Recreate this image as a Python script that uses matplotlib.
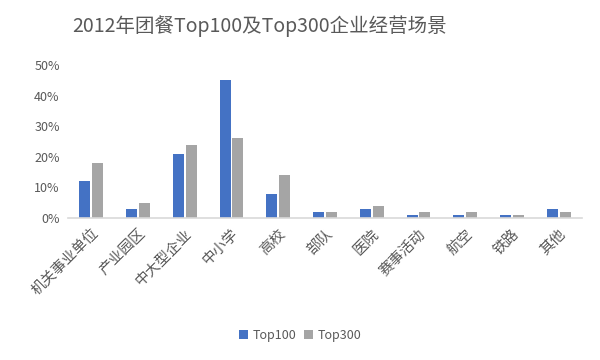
import matplotlib
matplotlib.use("Agg")
import matplotlib.pyplot as plt
import numpy as np

plt.rcParams['font.family'] = ['Noto Sans CJK SC', 'DejaVu Sans']

categories = ["机关事业单位", "产业园区", "中大型企业", "中小学", "高校", "部队",
              "医院", "赛事活动", "航空", "铁路", "其他"]
top100 = [12, 3, 21, 45, 8, 2, 3, 1, 1, 1, 3]
top300 = [18, 5, 24, 26, 14, 2, 4, 2, 2, 1, 2]
yticks = [0, 10, 20, 30, 40, 50]
ytick_labels = ["0%", "10%", "20%", "30%", "40%", "50%"]

fig = plt.figure(figsize=(6, 3.6), dpi=100)
ax = fig.add_axes([68/600, 1 - 218/360, (582-68)/600, (218-65)/360])

x = np.arange(len(categories))
w = 0.235
gap = 0.02
ax.bar(x - w/2 - gap, top100, width=w, color='#4472C4', label='Top100')
ax.bar(x + w/2 + gap, top300, width=w, color='#A5A5A5', label='Top300')

ax.set_xlim(-0.5, len(categories) - 0.5)
ax.set_ylim(0, 50)
ax.set_yticks(yticks)
ax.set_yticklabels(ytick_labels, color='#595959', fontsize=9)
ax.set_xticks(x)
ax.set_xticklabels(categories, rotation=45, ha='right', rotation_mode='anchor',
                   color='#595959', fontsize=10.5)
ax.tick_params(axis='both', length=0)
ax.tick_params(axis='x', pad=6)
ax.tick_params(axis='y', pad=6)
for s in ['top', 'right', 'left']:
    ax.spines[s].set_visible(False)
ax.spines['bottom'].set_color('#D9D9D9')
ax.spines['bottom'].set_linewidth(1.2)

fig.text(260/600, 1 - 26/360, "2012年团餐Top100及Top300企业经营场景",
         ha='center', va='center', fontsize=14, color='#595959')

fig.legend(loc='center', bbox_to_anchor=(300/600, 1 - 335/360), ncol=2,
           frameon=False, fontsize=9, handlelength=0.7, handleheight=0.7,
           columnspacing=0.6, handletextpad=0.4, labelcolor='#595959')

fig.savefig("out.png", dpi=100, facecolor='white')
